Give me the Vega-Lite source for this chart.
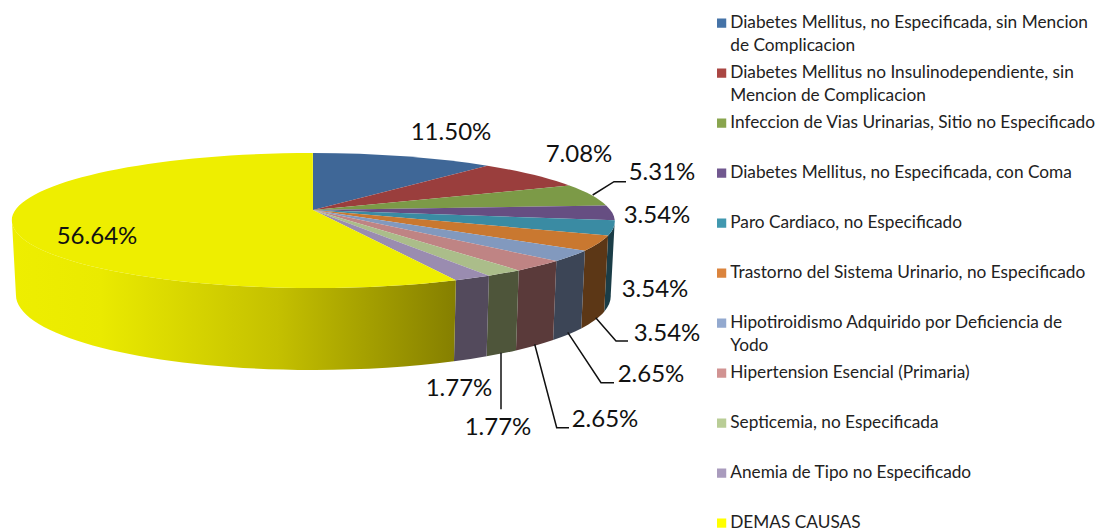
{
"$schema":"https://vega.github.io/schema/vega-lite/v6.json",
"width":1103,"height":532,"padding":0,
"autosize":{"type":"fit","contains":"padding"},
"background":"white",
"config":{"view":{"stroke":null}},
"data":{"values":[
{"order":1,"cause":"Diabetes Mellitus, no Especificada, sin Mencion de Complicacion","value":11.50},
{"order":2,"cause":"Diabetes Mellitus no Insulinodependiente, sin Mencion de Complicacion","value":7.08},
{"order":3,"cause":"Infeccion de Vias Urinarias, Sitio no Especificado","value":5.31},
{"order":4,"cause":"Diabetes Mellitus, no Especificada, con Coma","value":3.54},
{"order":5,"cause":"Paro Cardiaco, no Especificado","value":3.54},
{"order":6,"cause":"Trastorno del Sistema Urinario, no Especificado","value":3.54},
{"order":7,"cause":"Hipotiroidismo Adquirido por Deficiencia de Yodo","value":2.65},
{"order":8,"cause":"Hipertension Esencial (Primaria)","value":2.65},
{"order":9,"cause":"Septicemia, no Especificada","value":1.77},
{"order":10,"cause":"Anemia de Tipo no Especificado","value":1.77},
{"order":11,"cause":"DEMAS CAUSAS","value":56.64}
]},
"transform":[
{"stack":"value","groupby":[],"sort":[{"field":"order","order":"ascending"}],"as":["v0","v1"]},
{"calculate":"2*PI*datum.v0/100","as":"a0"},
{"calculate":"2*PI*datum.v1/100","as":"a1"},
{"calculate":"313+297.4*sin(datum.a0)/(1+(datum.a0<PI?0.17:0.1555)*cos(datum.a0))","as":"x0"},
{"calculate":"210-65.9*cos(datum.a0)/(1+0.1555*cos(datum.a0))","as":"y0"},
{"calculate":"313+297.4*sin(datum.a1)/(1+(datum.a1<PI?0.17:0.1555)*cos(datum.a1))","as":"x1"},
{"calculate":"210-65.9*cos(datum.a1)/(1+0.1555*cos(datum.a1))","as":"y1"},
{"calculate":"'M313,210L'+datum.x0+','+datum.y0+'A301,67.5 0 0 1 '+(datum.a0<PI&&datum.a1>PI?'313,288A301,67.5 0 0 1 ':'')+datum.x1+','+datum.y1+'Z'","as":"facePath"},
{"calculate":"max(datum.a0,acos(-0.1555))","as":"t0"},
{"calculate":"min(datum.a1,2*PI-acos(-0.1555))","as":"t1"},
{"calculate":"313+297.4*sin(datum.t0)/(1+(datum.t0<PI?0.17:0.1555)*cos(datum.t0))","as":"tx0"},
{"calculate":"210-65.9*cos(datum.t0)/(1+0.1555*cos(datum.t0))","as":"ty0"},
{"calculate":"313+297.4*sin(datum.t1)/(1+(datum.t1<PI?0.17:0.1555)*cos(datum.t1))","as":"tx1"},
{"calculate":"210-65.9*cos(datum.t1)/(1+0.1555*cos(datum.t1))","as":"ty1"},
{"calculate":"'M'+datum.tx0+','+datum.ty0+'A301,67.5 0 0 1 '+(datum.t0<PI&&datum.t1>PI?'313,288A301,67.5 0 0 1 ':'')+datum.tx1+','+datum.ty1+'L'+(313+(datum.tx1-313)*0.9867)+','+(295+(datum.ty1-220.5)*1.111)+'A297,75 0 0 0 '+(datum.t0<PI&&datum.t1>PI?'313,370A297,75 0 0 0 ':'')+(313+(datum.tx0-313)*0.9867)+','+(295+(datum.ty0-220.5)*1.111)+'Z'","as":"wallPath"},
{"calculate":"[451,579,662,657,655,667,651,605,498,459,97][datum.order-1]","as":"labelX"},
{"calculate":"[133,155,173,216,290,334,375,420,428,389,237][datum.order-1]","as":"labelY"},
{"calculate":"format(datum.value,'.2f')+'%'","as":"label"},
{"calculate":"['','','M592.7,195L614,181.7L626,181.7','','','M595.7,317.7L616,341L628,341','M567.7,332.3L601,382.7L614,382.7','M534.7,344.3L556.7,427.7L569,427.7','M501,352.7L501,409.3','',''][datum.order-1]","as":"leader"},
{"calculate":"0","as":"origin"}
],
"encoding":{
"x":{"field":"origin","type":"quantitative","scale":{"domain":[0,1103],"nice":false,"zero":false},"axis":null},
"y":{"field":"origin","type":"quantitative","scale":{"domain":[532,0],"nice":false,"zero":false},"axis":null}
},
"layer":[
{"transform":[{"filter":"datum.t1>datum.t0 && datum.order<11"}],
 "mark":{"type":"point","filled":true,"size":4,"opacity":1,"strokeWidth":0},
 "encoding":{"shape":{"field":"wallPath","type":"nominal","scale":null},
 "fill":{"field":"cause","type":"nominal","legend":null,"scale":{
  "domain":["Diabetes Mellitus, no Especificada, con Coma","Paro Cardiaco, no Especificado","Trastorno del Sistema Urinario, no Especificado","Hipotiroidismo Adquirido por Deficiencia de Yodo","Hipertension Esencial (Primaria)","Septicemia, no Especificada","Anemia de Tipo no Especificado"],
  "range":["#40314f","#1b3d47","#5c3716","#3c4556","#5a3a3a","#4e553a","#534a5c"]}}}},
{"transform":[{"filter":"datum.order==11"}],
 "mark":{"type":"point","filled":true,"size":4,"opacity":1,"strokeWidth":0,
  "fill":{"gradient":"linear","x1":0,"x2":1,"y1":0,"y2":0,"stops":[{"offset":0,"color":"#eeee00"},{"offset":0.2,"color":"#eaea00"},{"offset":0.6,"color":"#c4c000"},{"offset":1,"color":"#857f00"}]}},
 "encoding":{"shape":{"field":"wallPath","type":"nominal","scale":null}}},
{"mark":{"type":"point","filled":true,"size":4,"opacity":1,"strokeWidth":0},
 "encoding":{"shape":{"field":"facePath","type":"nominal","scale":null},
 "fill":{"field":"cause","type":"nominal","legend":null,"scale":{
  "domain":["Diabetes Mellitus, no Especificada, sin Mencion de Complicacion","Diabetes Mellitus no Insulinodependiente, sin Mencion de Complicacion","Infeccion de Vias Urinarias, Sitio no Especificado","Diabetes Mellitus, no Especificada, con Coma","Paro Cardiaco, no Especificado","Trastorno del Sistema Urinario, no Especificado","Hipotiroidismo Adquirido por Deficiencia de Yodo","Hipertension Esencial (Primaria)","Septicemia, no Especificada","Anemia de Tipo no Especificado","DEMAS CAUSAS"],
  "range":["#3f6797","#9a3e3d","#7c9a47","#664e82","#3a8ba3","#c97830","#8299be","#bf8484","#abbd8a","#9a8cb0","#eeee00"]}}}},
{"transform":[{"filter":"datum.leader!=''"}],
 "mark":{"type":"point","filled":false,"size":4,"opacity":1,"stroke":"#111111","strokeWidth":1.5},
 "encoding":{"shape":{"field":"leader","type":"nominal","scale":null}}},
{"mark":{"type":"text","font":"Lato","fontSize":24,"color":"#111111","align":"center","baseline":"middle"},
 "encoding":{
  "x":{"field":"labelX","type":"quantitative"},
  "y":{"field":"labelY","type":"quantitative"},
  "text":{"field":"label","type":"nominal"}}},
{"mark":{"type":"point","filled":true,"size":0,"opacity":0},
 "encoding":{"color":{"field":"cause","type":"nominal",
  "scale":{"domain":["Diabetes Mellitus, no Especificada, sin Mencion de Complicacion","Diabetes Mellitus no Insulinodependiente, sin Mencion de Complicacion","Infeccion de Vias Urinarias, Sitio no Especificado","Diabetes Mellitus, no Especificada, con Coma","Paro Cardiaco, no Especificado","Trastorno del Sistema Urinario, no Especificado","Hipotiroidismo Adquirido por Deficiencia de Yodo","Hipertension Esencial (Primaria)","Septicemia, no Especificada","Anemia de Tipo no Especificado","DEMAS CAUSAS"],
   "range":["#4573a7","#aa4643","#89a54e","#71588f","#4198af","#db843d","#93a9cf","#d19392","#b9cd96","#a99bbd","#ffff00"]},
  "legend":{"title":null,"orient":"none","legendX":713,"legendY":4.6,"padding":0,"symbolType":"square","symbolSize":85,"symbolOpacity":1,"symbolStrokeWidth":0,"labelFont":"Lato","labelFontSize":17.25,"labelColor":"#222222","labelOffset":0,"labelLimit":400,"clipHeight":37,"rowPadding":0,"columns":1,
   "encoding":{"labels":{"lineHeight":{"value":23}}},
   "labelExpr":"datum.label=='Diabetes Mellitus, no Especificada, sin Mencion de Complicacion'?['Diabetes Mellitus, no Especificada, sin Mencion','de Complicacion']:datum.label=='Diabetes Mellitus no Insulinodependiente, sin Mencion de Complicacion'?['Diabetes Mellitus no Insulinodependiente, sin','Mencion de Complicacion']:datum.label=='Hipotiroidismo Adquirido por Deficiencia de Yodo'?['Hipotiroidismo Adquirido por Deficiencia de','Yodo']:[datum.label,' ']"}}}}
],
"resolve":{"scale":{"fill":"independent"}}
}
